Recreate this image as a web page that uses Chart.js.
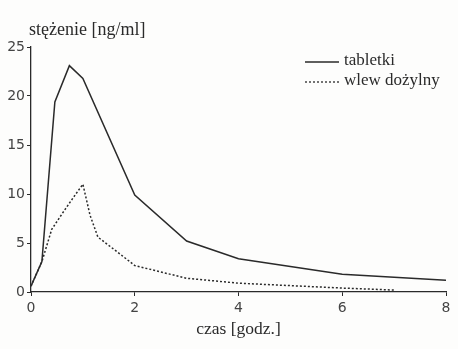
<!DOCTYPE html>
<html>
<head>
<meta charset="utf-8">
<script src="https://cdn.jsdelivr.net/npm/chart.js@4"></script>
<style>
  html, body { margin: 0; padding: 0; background: #fdfdfc; }
  #wrap { width: 458px; height: 349px; position: relative; }
</style>
</head>
<body>
<div id="wrap"><canvas id="c" width="458" height="349"></canvas></div>
<script>
// time [h] and concentration [ng/ml]
const tabletkiX = [0, 0.21, 0.46, 0.74, 1.0, 2.0, 3.0, 4.0, 6.0, 8.0];
const tabletkiY = [0.6, 3.1, 19.4, 23.1, 21.8, 9.9, 5.2, 3.4, 1.8, 1.2];
const wlewX = [0, 0.21, 0.4, 0.64, 0.85, 1.0, 1.14, 1.29, 1.71, 2.0, 3.0, 4.0, 6.0, 7.0];
const wlewY = [0.6, 3.1, 6.4, 8.3, 9.9, 11.0, 7.8, 5.6, 3.9, 2.7, 1.4, 0.9, 0.4, 0.2];
const xTicks = [0, 2, 4, 6, 8];
const yTicks = [0, 5, 10, 15, 20, 25];

const ink = '#2a2a2a';
const serif = '"Liberation Serif", "DejaVu Serif", serif';

const toPoints = (xs, ys) => xs.map((x, i) => ({ x: x, y: ys[i] }));

// y axis title and the in-plot legend
const extras = {
  id: 'extras',
  afterDraw(chart) {
    const ctx = chart.ctx;
    ctx.save();
    ctx.fillStyle = ink;
    ctx.font = '18px ' + serif;
    ctx.textBaseline = 'alphabetic';
    ctx.fillText('stężenie [ng/ml]', 29, 35);

    ctx.font = '17px ' + serif;
    chart.data.datasets.forEach((ds, i) => {
      const y = 62 + i * 20;
      ctx.beginPath();
      ctx.strokeStyle = ink;
      ctx.lineWidth = 1.3;
      ctx.setLineDash(ds.borderDash || []);
      ctx.moveTo(305, y);
      ctx.lineTo(339, y);
      ctx.stroke();
      ctx.setLineDash([]);
      ctx.fillText(ds.label, 344, y + 3);
    });
    ctx.restore();
  }
};

new Chart(document.getElementById('c'), {
  type: 'scatter',
  data: {
    datasets: [
      {
        label: 'tabletki',
        data: toPoints(tabletkiX, tabletkiY),
        showLine: true,
        borderColor: ink,
        borderWidth: 1.5,
        pointRadius: 0,
        tension: 0
      },
      {
        label: 'wlew dożylny',
        data: toPoints(wlewX, wlewY),
        showLine: true,
        borderColor: ink,
        borderWidth: 1.5,
        borderDash: [2, 2],
        pointRadius: 0,
        tension: 0
      }
    ]
  },
  options: {
    responsive: false,
    animation: false,
    layout: { padding: { top: 47, right: 12, left: 0, bottom: 9 } },
    plugins: {
      legend: { display: false },
      tooltip: { enabled: false }
    },
    scales: {
      x: {
        type: 'linear',
        min: 0,
        max: 8,
        afterBuildTicks: (s) => { s.ticks = xTicks.map(v => ({ value: v })); },
        afterFit: (s) => { s.height = 48; },
        border: { display: true, color: ink, width: 1.3 },
        grid: { drawOnChartArea: false, drawTicks: true, tickLength: 4, color: ink },
        ticks: {
          color: '#444',
          padding: 4,
          font: { family: '"DejaVu Sans", sans-serif', size: 14 }
        },
        title: {
          display: true,
          text: 'czas [godz.]',
          color: ink,
          padding: { top: 2, bottom: 0 },
          font: { family: serif, size: 17.5 }
        }
      },
      y: {
        min: 0,
        max: 25,
        afterBuildTicks: (s) => { s.ticks = yTicks.map(v => ({ value: v })); },
        afterFit: (s) => { s.width = 31; },
        border: { display: true, color: ink, width: 1.3 },
        grid: { drawOnChartArea: false, drawTicks: true, tickLength: 4, color: ink },
        ticks: {
          color: '#444',
          padding: 2,
          font: { family: '"DejaVu Sans", sans-serif', size: 14 }
        }
      }
    }
  },
  plugins: [extras]
});
</script>
</body>
</html>
